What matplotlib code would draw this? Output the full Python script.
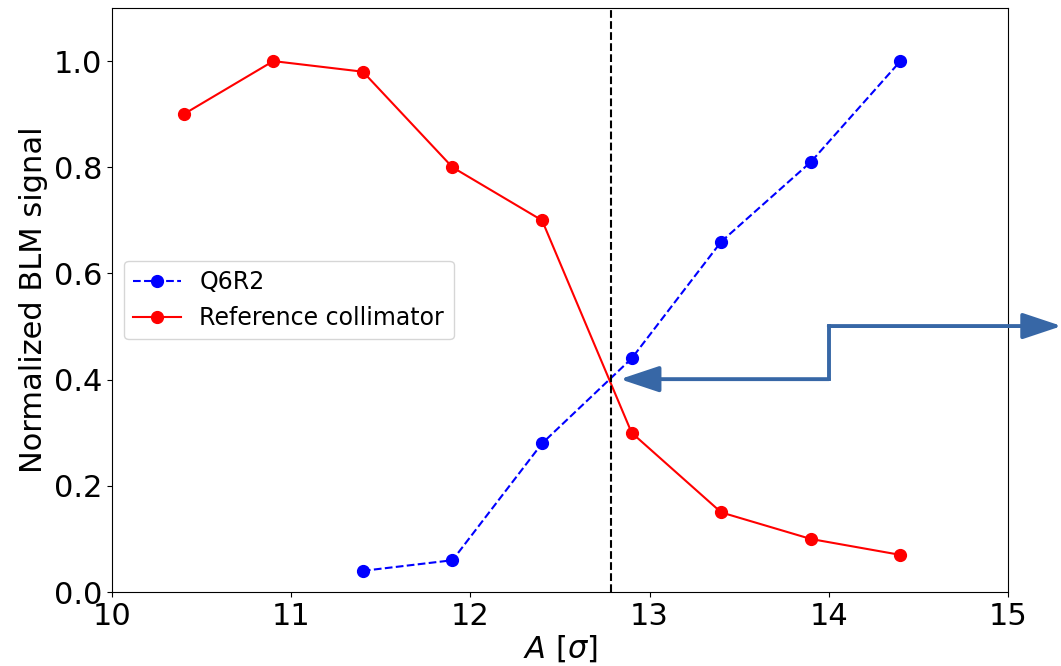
import numpy as np
import matplotlib
matplotlib.use("Agg")
from matplotlib import pyplot as plt

# data
ref_x = [10.4, 10.9, 11.4, 11.9, 12.4, 12.9, 13.4, 13.9, 14.4]
ref_y = [0.90, 1.00, 0.98, 0.80, 0.70, 0.30, 0.15, 0.10, 0.07]
q6_x = [11.4, 11.9, 12.4, 12.9, 13.4, 13.9, 14.4]
q6_y = [0.04, 0.06, 0.28, 0.44, 0.66, 0.81, 1.00]
cross_x = 12.785

fig, ax = plt.subplots(figsize=(10.61, 6.66), dpi=100)
fig.subplots_adjust(left=0.1056, right=0.950, top=0.988, bottom=0.111)

ax.plot(q6_x, q6_y, 'o--', color='blue', lw=1.5, ms=8.5, label='Q6R2')
ax.plot(ref_x, ref_y, 'o-', color='red', lw=1.5, ms=8.5, label='Reference collimator')
ax.axvline(cross_x, color='black', ls='--', lw=1.5)

# step arrow
arrow_col = '#3767a6'
ax.plot([14.0, 14.0], [0.401, 0.501], color=arrow_col, lw=2.8, solid_capstyle='projecting')
style = dict(arrowstyle='-|>,head_length=2.4,head_width=0.8', mutation_scale=10,
             color=arrow_col, lw=2.8, shrinkA=0, shrinkB=0)
ax.annotate('', xy=(12.835, 0.401), xytext=(14.0, 0.401), arrowprops=style)
ax.annotate('', xy=(15.30, 0.501), xytext=(14.0, 0.501), arrowprops=style,
            annotation_clip=False)

ax.set_xlim(10, 15)
ax.set_ylim(0, 1.1)
ax.set_xticks([10, 11, 12, 13, 14, 15])
ax.set_yticks([0.0, 0.2, 0.4, 0.6, 0.8, 1.0])
ax.tick_params(labelsize=22)
ax.set_xlabel(r'$A\ [\sigma]$', fontsize=22, labelpad=2)
ax.set_ylabel('Normalized BLM signal', fontsize=22)

ax.legend(loc='center left', bbox_to_anchor=(0, 0.5), fontsize=17)

plt.savefig('out.png', dpi=100)
